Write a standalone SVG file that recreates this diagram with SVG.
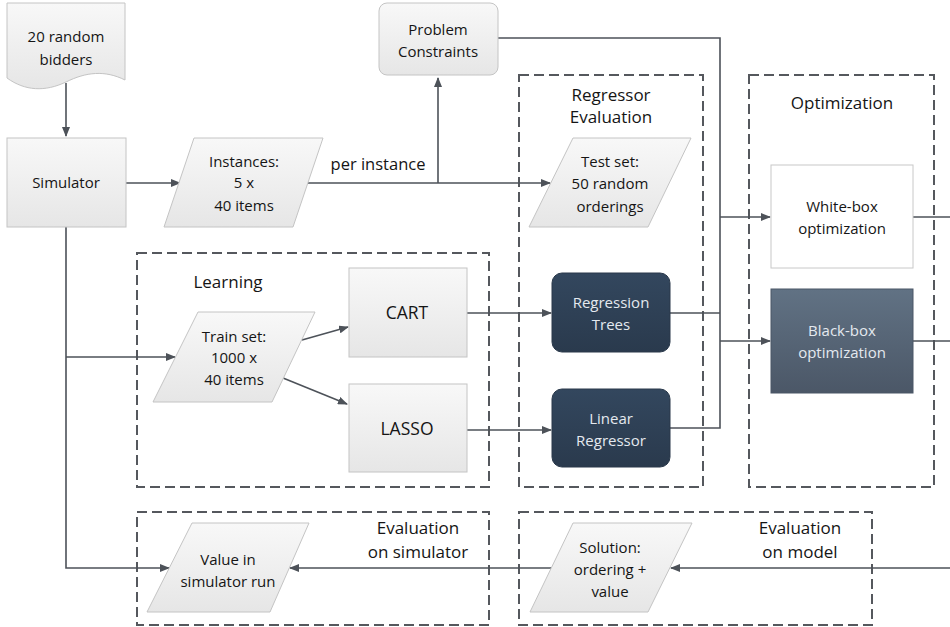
<svg xmlns="http://www.w3.org/2000/svg" width="950" height="627" viewBox="0 0 950 627">
<style>
text{font-family:"Open Sans","DejaVu Sans",sans-serif;font-size:15px;fill:#151515;text-anchor:middle}
.ttl{font-size:17px}
.big{font-size:17.5px}
.lt{fill:#e4e9ef}
.grp{fill:none;stroke:#55585d;stroke-width:2;stroke-dasharray:10 5}
.gray{fill:url(#g1);stroke:#c4c4c4;stroke-width:1}
.navy{fill:url(#g2);stroke:#2a394b;stroke-width:1}
.con{fill:none;stroke:#4d5259;stroke-width:1.6}
.arr{marker-end:url(#ah)}
</style>
<defs>
<linearGradient id="g1" x1="0" y1="0" x2="0" y2="1"><stop offset="0" stop-color="#f8f8f8"/><stop offset="1" stop-color="#e6e6e6"/></linearGradient>
<linearGradient id="g2" x1="0" y1="0" x2="0" y2="1"><stop offset="0" stop-color="#33475e"/><stop offset="1" stop-color="#2a3a4d"/></linearGradient>
<linearGradient id="g3" x1="0" y1="0" x2="0" y2="1"><stop offset="0" stop-color="#617284"/><stop offset="1" stop-color="#4b5767"/></linearGradient>
<marker id="ah" markerUnits="userSpaceOnUse" markerWidth="10" markerHeight="8" refX="9" refY="4" orient="auto"><path d="M0,0 L10,4 L0,8 z" fill="#4d5259"/></marker>
</defs>

<g id="groups">
<rect id="learning" class="grp" x="137" y="253" width="352" height="234"/>
<rect id="regressor-evaluation" class="grp" x="519" y="75" width="184" height="412"/>
<rect id="optimization" class="grp" x="749" y="75" width="185" height="412"/>
<rect id="evaluation-simulator" class="grp" x="137" y="512" width="352" height="113"/>
<rect id="evaluation-model" class="grp" x="519" y="512" width="353" height="113"/>
<text class="ttl" x="228" y="288">Learning</text>
<text class="ttl" x="611" y="101">Regressor</text>
<text class="ttl" x="611" y="123">Evaluation</text>
<text class="ttl" x="842" y="109">Optimization</text>
<text class="ttl" x="418" y="534">Evaluation</text>
<text class="ttl" x="418" y="558">on simulator</text>
<text class="ttl" x="800" y="534">Evaluation</text>
<text class="ttl" x="800" y="558">on model</text>
</g>

<g id="connectors">
<line class="con arr" x1="66" y1="83" x2="66" y2="136"/>
<line class="con arr" x1="126" y1="183" x2="180" y2="183"/>
<line class="con arr" x1="308" y1="183" x2="550" y2="183"/>
<polyline class="con arr" points="438,183 438,78"/>
<polyline class="con" points="498,38 720,38 720,428 670,428"/>
<line class="con" x1="670" y1="313" x2="720" y2="313"/>
<line class="con arr" x1="720" y1="217" x2="770" y2="217"/>
<line class="con arr" x1="720" y1="341" x2="770" y2="341"/>
<polyline class="con arr" points="66,227 66,568 169,568"/>
<line class="con arr" x1="66" y1="357" x2="175" y2="357"/>
<line class="con arr" x1="302" y1="340" x2="348" y2="327"/>
<line class="con arr" x1="283" y1="378" x2="347" y2="404"/>
<line class="con arr" x1="467" y1="313" x2="551" y2="313"/>
<line class="con arr" x1="467" y1="430" x2="551" y2="430"/>
<line class="con" x1="913" y1="217" x2="950" y2="217"/>
<line class="con" x1="913" y1="341" x2="950" y2="341"/>
<line class="con arr" x1="950" y1="568" x2="671" y2="568"/>
<line class="con arr" x1="551" y1="568" x2="290" y2="568"/>
<text x="378" y="170" style="font-size:16.5px">per instance</text>
</g>

<g id="bidders">
<path class="gray" d="M7,3 H125 V80 C105,70 86,72 66,82 C45,92 25,91 7,78 Z"/>
<text x="66" y="42">20 random</text>
<text x="66" y="65">bidders</text>
</g>

<g id="simulator">
<rect class="gray" x="7" y="138" width="119" height="89"/>
<text x="66" y="188">Simulator</text>
</g>

<g id="instances">
<polygon class="gray" points="194,138 323,138 293,227 164,227"/>
<text x="244" y="167">Instances:</text>
<text x="244" y="188">5 x</text>
<text x="244" y="211">40 items</text>
</g>

<g id="problem-constraints">
<rect class="gray" x="379" y="3" width="119" height="72" rx="8"/>
<text x="438" y="35">Problem</text>
<text x="438" y="57">Constraints</text>
</g>

<g id="test-set">
<polygon class="gray" points="573,138 691,138 648,227 529,227"/>
<text x="610" y="167">Test set:</text>
<text x="610" y="189">50 random</text>
<text x="610" y="212">orderings</text>
</g>

<g id="white-box">
<rect x="771" y="165" width="142" height="103" fill="#ffffff" stroke="#c8c8c8" stroke-width="1"/>
<text x="842" y="212">White-box</text>
<text x="842" y="234">optimization</text>
</g>

<g id="black-box">
<rect x="771" y="289" width="142" height="104" fill="url(#g3)" stroke="#4b5767" stroke-width="1"/>
<text class="lt" x="842" y="336">Black-box</text>
<text class="lt" x="842" y="358">optimization</text>
</g>

<g id="train-set">
<polygon class="gray" points="198,312 315,312 272,402 153,402"/>
<text x="234" y="342">Train set:</text>
<text x="234" y="363">1000 x</text>
<text x="234" y="385">40 items</text>
</g>

<g id="cart">
<rect class="gray" x="349" y="268" width="118" height="89"/>
<text class="big" x="407" y="319">CART</text>
</g>

<g id="lasso">
<rect class="gray" x="349" y="384" width="118" height="88"/>
<text class="big" x="407" y="435">LASSO</text>
</g>

<g id="regression-trees">
<rect class="navy" x="552" y="273" width="118" height="79" rx="10"/>
<text class="lt" x="611" y="308">Regression</text>
<text class="lt" x="611" y="330">Trees</text>
</g>

<g id="linear-regressor">
<rect class="navy" x="552" y="389" width="118" height="78" rx="10"/>
<text class="lt" x="611" y="424">Linear</text>
<text class="lt" x="611" y="446">Regressor</text>
</g>

<g id="value-simulator">
<polygon class="gray" points="192,523 309,523 270,612 147,612"/>
<text x="228" y="565">Value in</text>
<text x="228" y="587">simulator run</text>
</g>

<g id="solution">
<polygon class="gray" points="573,523 692,523 648,612 530,612"/>
<text x="610" y="553">Solution:</text>
<text x="610" y="575">ordering +</text>
<text x="610" y="597">value</text>
</g>
</svg>
